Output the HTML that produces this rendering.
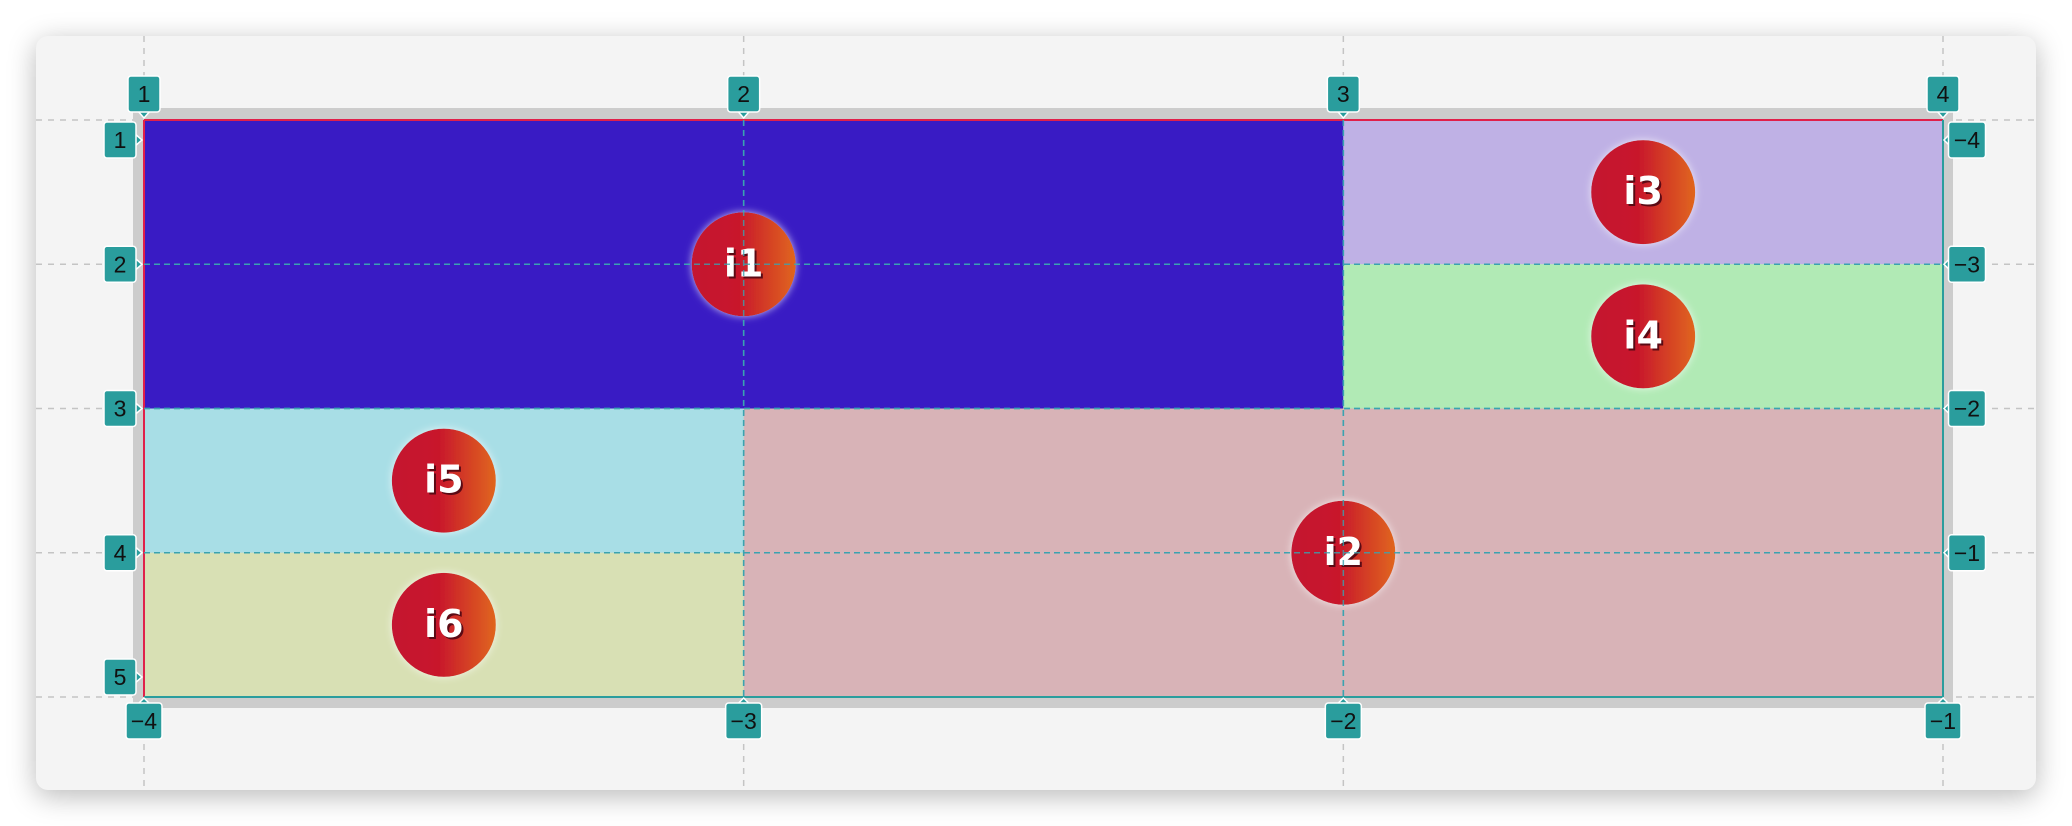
<!DOCTYPE html>
<html><head><meta charset="utf-8">
<style>
html,body{margin:0;padding:0;width:2072px;height:826px;background:#fff;overflow:hidden;font-family:"Liberation Sans",sans-serif}
#panel{position:absolute;left:36px;top:36px;width:2000px;height:754px;background:#f4f4f4;border-radius:12px;box-shadow:0 6px 28px rgba(0,0,0,0.28)}
svg{position:absolute;left:0;top:0}
</style></head><body>
<div id="panel"></div>
<svg id="chart" width="2072" height="826"></svg>
<script>
const colLines=[1,2,3,4];
const rowLines=[1,2,3,4,5];
const colNeg=[-4,-3,-2,-1];
const rowNegLabels=[-4,-3,-2,-1];
const itemNames=["i1","i2","i3","i4","i5","i6"];
const itemCols=[[1,3],[2,4],[3,4],[3,4],[1,2],[1,2]];
const itemRows=[[1,3],[3,5],[1,2],[2,3],[3,4],[4,5]];
const itemColors=["#391bc4","#d8b3b7","#bfb1e5","#b1eab5","#a8dee6","#d8e0b4"];

const X0=144,X1=1943,Y0=120,Y1=697;
const xs=c=>X0+(c-1)*(X1-X0)/(colLines.length-1);
const ys=r=>Y0+(r-1)*(Y1-Y0)/(rowLines.length-1);
const NS="http://www.w3.org/2000/svg";
const svg=document.getElementById('chart');
function mk(t,a,p){const e=document.createElementNS(NS,t);for(const k in a)e.setAttribute(k,a[k]);(p||svg).appendChild(e);return e;}

const defs=mk('defs',{});
const g=mk('linearGradient',{id:'cg',x1:'0',y1:'0',x2:'1',y2:'0'},defs);
mk('stop',{offset:'0','stop-color':'#c41230'},g);mk('stop',{offset:'0.45','stop-color':'#c8172c'},g);mk('stop',{offset:'1','stop-color':'#e0661e'},g);
const f=mk('filter',{id:'glow',x:'-30%',y:'-30%',width:'160%',height:'160%'},defs);
mk('feDropShadow',{dx:'0',dy:'0',stdDeviation:'4','flood-color':'#ffffff','flood-opacity':'0.7'},f);

colLines.forEach(c=>{const l=mk('line',{x1:xs(c),x2:xs(c),y1:36,y2:790,stroke:'#c4c4c4','stroke-width':1.5,'stroke-dasharray':'6 6'});
});
rowLines.forEach(r=>{const l=mk('line',{x1:36,x2:2036,y1:ys(r),y2:ys(r),stroke:'#c4c4c4','stroke-width':1.5,'stroke-dasharray':'6 6'});
});

const cont=mk('rect',{x:X0-11,y:Y0-12,width:X1-X0+21,height:Y1-Y0+23,fill:'#cccccc',rx:3});


itemNames.forEach((n,i)=>{
 const x=xs(itemCols[i][0]),x2=xs(itemCols[i][1]),y=ys(itemRows[i][0]),y2=ys(itemRows[i][1]);
 const r=mk('rect',{x:x,y:y,width:x2-x,height:y2-y,fill:itemColors[i]});
 
});
mk('line',{x1:X0,x2:X1,y1:Y0,y2:Y0,stroke:'#e0204a','stroke-width':2});
mk('line',{x1:X0,x2:X0,y1:Y0,y2:Y1,stroke:'#e0204a','stroke-width':2});
mk('line',{x1:X0,x2:X1,y1:Y1,y2:Y1,stroke:'#2a9d9d','stroke-width':2});
mk('line',{x1:X1,x2:X1,y1:Y0,y2:Y1,stroke:'#2a9d9d','stroke-width':2});
colLines.slice(1,-1).forEach(c=>mk('line',{x1:xs(c),x2:xs(c),y1:Y0,y2:Y1,stroke:'#3aa3b0','stroke-width':1.5,'stroke-dasharray':'6 4'}));
rowLines.slice(1,-1).forEach(r=>mk('line',{x1:X0,x2:X1,y1:ys(r),y2:ys(r),stroke:'#3aa3b0','stroke-width':1.5,'stroke-dasharray':'6 4'}));

itemNames.forEach((n,i)=>{
 const cx=(xs(itemCols[i][0])+xs(itemCols[i][1]))/2,cy=(ys(itemRows[i][0])+ys(itemRows[i][1]))/2;
 const c=mk('circle',{cx:cx,cy:cy,r:52,fill:'url(#cg)',filter:'url(#glow)'});
 
 mk('text',{x:cx+2,y:cy+14,'text-anchor':'middle','font-size':38,'font-weight':'bold','font-family':'DejaVu Sans, sans-serif',fill:'#5a0a14'}).textContent=n;
 const t=mk('text',{x:cx,y:cy+12,'text-anchor':'middle','font-size':38,'font-weight':'bold','font-family':'DejaVu Sans, sans-serif',fill:'#ffffff'});
 t.textContent=n;
});
colLines.slice(1,-1).forEach(c=>mk('line',{x1:xs(c),x2:xs(c),y1:Y0,y2:Y1,stroke:'#3aa3b0','stroke-width':1.5,'stroke-dasharray':'6 4','opacity':0.8}));
rowLines.slice(1,-1).forEach(r=>mk('line',{x1:X0,x2:X1,y1:ys(r),y2:ys(r),stroke:'#3aa3b0','stroke-width':1.5,'stroke-dasharray':'6 4','opacity':0.8}));

function badge(cx,cy,w,label,name,ptr){
 const grp=mk('g',{});
 
 const h=36,x=cx-w/2,y=cy-h/2;
 if(ptr)mk('polygon',{points:ptr,fill:'#2a9d9d',stroke:'#fff','stroke-width':1.5},grp);
 mk('rect',{x:x,y:y,width:w,height:h,rx:3,fill:'#2a9d9d',stroke:'#fff','stroke-width':1.5},grp);
 mk('text',{x:cx,y:cy+8,'text-anchor':'middle','font-size':23,'font-family':'Liberation Sans, sans-serif',fill:'#111'},grp).textContent=label;
}
colLines.forEach((c,i)=>{
 const x=xs(c);
 badge(x,94,32,String(c),'column-badge-'+c,`${x-7},110 ${x},118 ${x+7},110`);
 badge(x,721,36,'\u2212'+Math.abs(colNeg[i]),'column-neg-badge-'+Math.abs(colNeg[i]),`${x-7},705 ${x},698 ${x+7},705`);
});
rowLines.forEach((r,i)=>{
 let y=ys(r);
 if(i===0)y+=20;if(i===rowLines.length-1)y-=20;
 badge(120,y,32,String(r),'row-badge-'+r,`134,${y-7} 142,${y} 134,${y+7}`);
});
rowNegLabels.forEach((v,i)=>{
 const yy=i===0?ys(1)+20:ys(i+1);
 badge(1967,yy,37,'\u2212'+Math.abs(v),'row-neg-badge-'+Math.abs(v),`1951,${yy-7} 1944,${yy} 1951,${yy+7}`);
});
</script>
</body></html>
